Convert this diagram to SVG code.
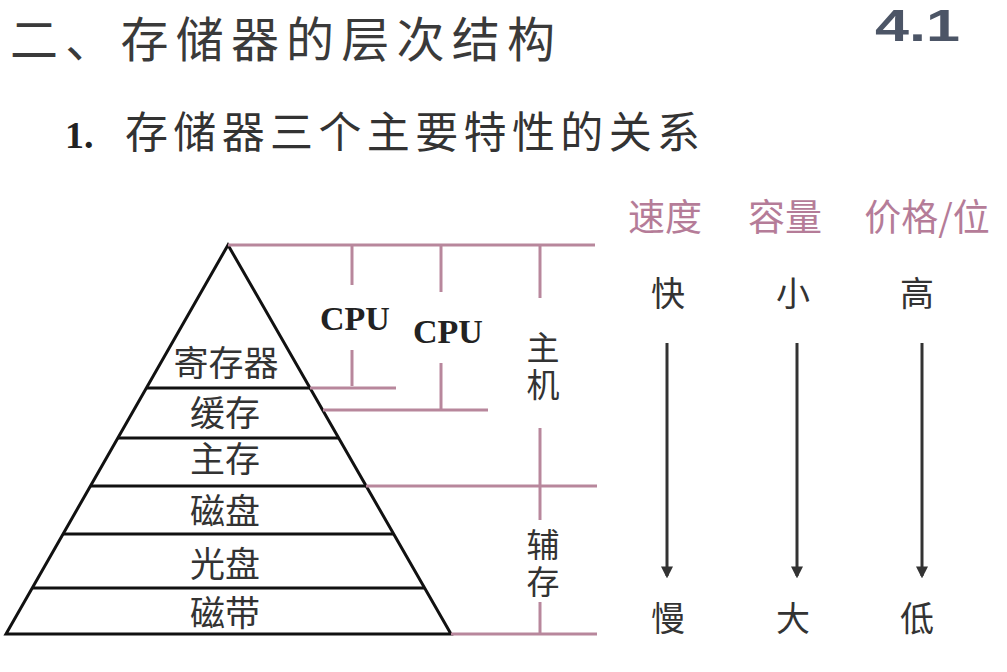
<svg xmlns="http://www.w3.org/2000/svg" width="1007" height="672" viewBox="0 0 1007 672">
<defs>
<style>
.cjk{font-family:"Noto Sans CJK SC","Noto Sans",sans-serif;}
.lvl{font-size:35px;fill:#333;text-anchor:middle;}
.side{font-size:33px;fill:#333;writing-mode:vertical-rl;letter-spacing:4px;}
.hdr{font-size:37px;fill:#b57c98;text-anchor:middle;}
.val{font-size:34px;fill:#333;text-anchor:middle;}
.cpu{font-family:"Liberation Serif",serif;font-weight:bold;font-size:34px;fill:#222;text-anchor:middle;}
.pk{stroke:#b8879c;stroke-width:3;fill:none;}
.bk{stroke:#111;stroke-width:3;fill:none;}
.ar{stroke:#333;stroke-width:3;fill:none;}
</style>
<marker id="ah" viewBox="0 0 10 10" refX="8" refY="5" markerWidth="4" markerHeight="4" orient="auto">
<path d="M0,0 L10,5 L0,10 z" fill="#333"/>
</marker>
</defs>
<rect width="1007" height="672" fill="#ffffff"/>

<g id="title">
<text class="cjk" x="10" y="57" font-size="48" fill="#3a3a3a" textLength="545" lengthAdjust="spacing">二、存储器的层次结构</text>
<text x="875" y="41" font-family="Liberation Sans,Arial,sans-serif" font-weight="bold" font-size="45" fill="#4c5566" textLength="85" lengthAdjust="spacingAndGlyphs">4.1</text>
</g>
<g id="subtitle">
<text x="65" y="148" font-family="Liberation Serif,serif" font-weight="bold" font-size="38" fill="#222">1.</text>
<text class="cjk" x="125" y="148" font-size="43" fill="#333" textLength="575" lengthAdjust="spacing">存储器三个主要特性的关系</text>
</g>

<g id="pyramid">
<polygon class="bk" points="228,245 451,634 6,634"/>
<line class="bk" x1="146.4" y1="388" x2="310" y2="388"/>
<line class="bk" x1="117.9" y1="438" x2="338.6" y2="438"/>
<line class="bk" x1="90.5" y1="486" x2="366.2" y2="486"/>
<line class="bk" x1="63.1" y1="534" x2="393.7" y2="534"/>
<line class="bk" x1="32.2" y1="588" x2="424.6" y2="588"/>
</g>
<g id="level-register"><text class="cjk lvl" x="226" y="376">寄存器</text></g>
<g id="level-cache"><text class="cjk lvl" x="225" y="426">缓存</text></g>
<g id="level-main"><text class="cjk lvl" x="225" y="472">主存</text></g>
<g id="level-disk"><text class="cjk lvl" x="225" y="524">磁盘</text></g>
<g id="level-optical"><text class="cjk lvl" x="225" y="577">光盘</text></g>
<g id="level-tape"><text class="cjk lvl" x="225" y="626">磁带</text></g>

<g id="cpu1"><text class="cpu" x="355" y="330">CPU</text></g>
<g id="cpu2"><text class="cpu" x="448" y="343">CPU</text></g>
<g id="host"><text class="cjk side" x="543" y="331">主机</text></g>
<g id="aux"><text class="cjk side" x="543" y="528">辅存</text></g>

<g id="headers">
<text class="cjk hdr" x="665" y="231">速度</text>
<text class="cjk hdr" x="785" y="231">容量</text>
<text class="cjk hdr" x="927" y="231">价格/位</text>
</g>
<g id="values">
<text class="cjk val" x="668" y="306">快</text>
<text class="cjk val" x="793" y="306">小</text>
<text class="cjk val" x="917" y="306">高</text>
<text class="cjk val" x="668" y="631">慢</text>
<text class="cjk val" x="793" y="631">大</text>
<text class="cjk val" x="917" y="631">低</text>
</g>

<g id="connectors">
<line class="pk" x1="228" y1="245" x2="595" y2="245"/>
<line class="pk" x1="352" y1="245" x2="352" y2="285"/>
<line class="pk" x1="352" y1="350" x2="352" y2="386"/>
<line class="pk" x1="310" y1="388" x2="396" y2="388"/>
<line class="pk" x1="441" y1="245" x2="441" y2="292"/>
<line class="pk" x1="441" y1="363" x2="441" y2="410"/>
<line class="pk" x1="323" y1="410" x2="488" y2="410"/>
<line class="pk" x1="540" y1="245" x2="540" y2="298"/>
<line class="pk" x1="540" y1="428" x2="540" y2="520"/>
<line class="pk" x1="540" y1="602" x2="540" y2="634"/>
<line class="pk" x1="366" y1="486" x2="597" y2="486"/>
<line class="pk" x1="451" y1="634" x2="597" y2="634"/>
<line class="ar" x1="667" y1="343" x2="667" y2="576" marker-end="url(#ah)"/>
<line class="ar" x1="797" y1="343" x2="797" y2="576" marker-end="url(#ah)"/>
<line class="ar" x1="922" y1="343" x2="922" y2="576" marker-end="url(#ah)"/>
</g>
</svg>
